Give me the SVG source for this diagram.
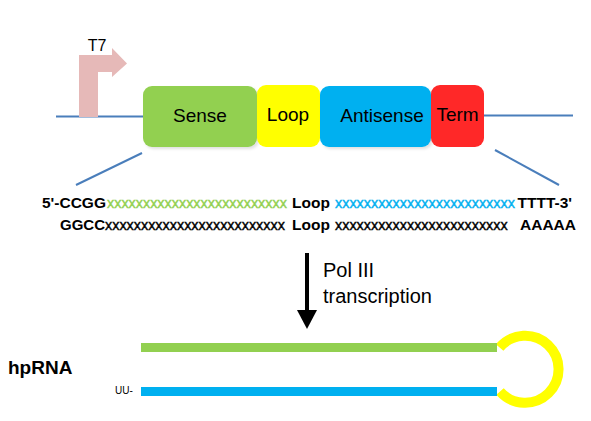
<svg xmlns="http://www.w3.org/2000/svg" width="591" height="421" viewBox="0 0 591 421">
<style>
.lbl{font-family:"Liberation Sans",Arial,sans-serif;font-size:19px;fill:#000;text-anchor:middle}
.seq{font-family:"Liberation Sans",Arial,sans-serif;font-size:15.5px;font-weight:bold}
.xs{font-family:"Liberation Sans",Arial,sans-serif;font-size:14.4px;stroke-width:0.4}
.ln{stroke:#4A7EBB;stroke-width:2;fill:none}
.shadow{fill:#000;opacity:0.12}
.txt{font-family:"Liberation Sans",Arial,sans-serif;font-size:20px}
</style>
<defs>
<filter id="sh" x="-10%" y="-10%" width="130%" height="130%">
<feGaussianBlur stdDeviation="1.5"/>
</filter>
</defs>
<g id="connectors">
<line class="ln" x1="56" y1="116.5" x2="143" y2="116.5"/>
<line class="ln" x1="484" y1="115.5" x2="573" y2="115.5"/>
<line class="ln" x1="142" y1="153" x2="76" y2="185"/>
<line class="ln" x1="495" y1="150" x2="559" y2="185"/>
<g id="arrow">
<line x1="307" y1="253" x2="307" y2="312" stroke="#000" stroke-width="4"/>
<polygon points="297,310 317,310 307,329" fill="#000"/>
</g>
</g>
<g id="t7">
<polygon points="79,117 79,55 112,55 112,48 127,63.5 112,77 112,72 98,72 98,117" fill="#E6B9B8"/>
<text x="97" y="51" style="font-family:'Liberation Sans',Arial,sans-serif;font-size:16px" text-anchor="middle">T7</text>
</g>
<g id="sense">
<rect x="145" y="88" width="114" height="61" rx="9" class="shadow" filter="url(#sh)"/>
<rect x="143" y="86" width="114" height="61" rx="9" fill="#92D050"/>
<text class="lbl" x="200" y="122">Sense</text>
</g>
<g id="loop">
<rect x="257" y="85" width="63" height="62" rx="9" fill="#FFFF00"/>
<text class="lbl" x="288" y="121">Loop</text>
</g>
<g id="antisense">
<rect x="322" y="88" width="111" height="61" rx="9" class="shadow" filter="url(#sh)"/>
<rect x="320" y="86" width="111" height="61" rx="9" fill="#00B0F0"/>
<text class="lbl" x="382" y="122">Antisense</text>
</g>
<g id="term">
<rect x="431" y="85" width="53" height="62" rx="9" fill="#FF2828"/>
<text class="lbl" x="457.5" y="121">Term</text>
</g>
<g id="sequence">
<text class="seq" x="42" y="208">5'-CCGG</text>
<text class="xs" x="107" y="208" fill="#92D050" stroke="#92D050">xxxxxxxxxxxxxxxxxxxxxxxxx</text>
<text class="seq" x="292" y="208">Loop</text>
<text class="xs" x="335" y="208" fill="#00B0F0" stroke="#00B0F0">xxxxxxxxxxxxxxxxxxxxxxxxx</text>
<text class="seq" x="517.5" y="208">TTTT-3'</text>
<text class="seq" x="60" y="230" style="font-size:15px">GGCC</text>
<text class="xs" x="105" y="230" fill="#000" stroke="#000">xxxxxxxxxxxxxxxxxxxxxxxxx</text>
<text class="seq" x="292" y="230">Loop</text>
<text class="xs" x="335" y="230" fill="#000" stroke="#000">xxxxxxxxxxxxxxxxxxxxxxxx</text>
<text class="seq" x="520" y="230">AAAAA</text>
</g>
<g id="pol">
<text class="txt" x="323" y="277">Pol III</text>
<text class="txt" x="323" y="303">transcription</text>
</g>
<g id="hprna">
<text style="font-family:'Liberation Sans',Arial,sans-serif;font-size:19px;font-weight:bold" x="8" y="374">hpRNA</text>
<text style="font-family:'Liberation Sans',Arial,sans-serif;font-size:10px" x="115" y="394">UU-</text>
<path d="M499.6,347.5 A33.5,33.5 0 1 1 500,391.5" fill="none" stroke="#FFFF00" stroke-width="10"/>
<rect x="141" y="343" width="356" height="9" fill="#92D050"/>
<rect x="141" y="387" width="356" height="9" fill="#00B0F0"/>
</g>
</svg>
